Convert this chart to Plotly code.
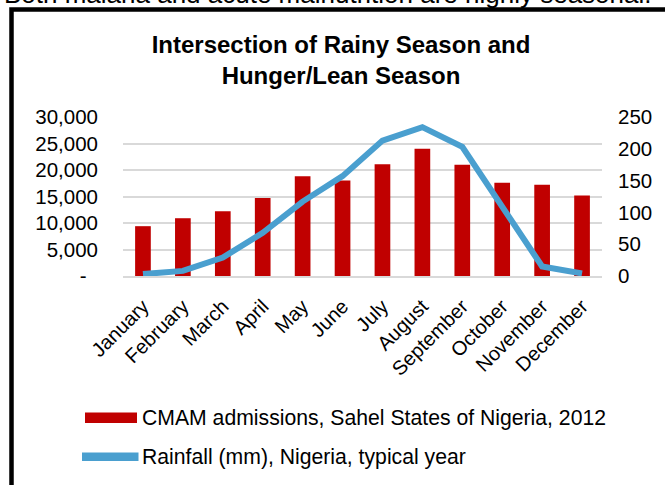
import plotly.graph_objects as go

months = ["January", "February", "March", "April", "May", "June", "July",
          "August", "September", "October", "November", "December"]
cmam_admissions = [9400, 10900, 12200, 14700, 18800, 18000, 21100, 24000,
                   21000, 17600, 17200, 15200]
rainfall_mm = [3, 8, 29, 68, 117, 157, 213, 234, 203, 110, 15, 4]

left_ticks = [0, 5000, 10000, 15000, 20000, 25000, 30000]
left_ticktext = ["-\u00a0\u00a0", "5,000", "10,000", "15,000", "20,000", "25,000", "30,000"]
right_ticks = [0, 50, 100, 150, 200, 250]

FONT = "Liberation Sans, Arial, sans-serif"
RED = "#C00000"
BLUE = "#4A9FCF"

# pixel geometry of the plot area
L, R, T, B = 123, 602, 117, 276
W, H = 665, 485


def fx(px):
    return (px - L) / (R - L)


def fy(py):
    return (B - py) / (B - T)


fig = go.Figure()
fig.add_trace(go.Bar(
    x=months, y=cmam_admissions, name="CMAM admissions, Sahel States of Nigeria, 2012",
    marker=dict(color=RED, line=dict(width=0)), yaxis="y", showlegend=False,
))
fig.add_trace(go.Scatter(
    x=months, y=rainfall_mm, name="Rainfall (mm), Nigeria, typical year",
    mode="lines", line=dict(color=BLUE, width=6), yaxis="y2", showlegend=False,
))

shapes = [
    # chart frame (extends past the visible page on right/bottom)
    dict(type="rect", xref="paper", yref="paper",
         x0=fx(11.5), x1=fx(680), y0=fy(500), y1=fy(9.5),
         line=dict(color="black", width=4.5), fillcolor="rgba(0,0,0,0)", layer="above"),
    # legend swatches
    dict(type="rect", xref="paper", yref="paper",
         x0=fx(85), x1=fx(137), y0=fy(423), y1=fy(412.5),
         line=dict(width=0), fillcolor=RED),
    dict(type="line", xref="paper", yref="paper",
         x0=fx(82), x1=fx(138.5), y0=fy(456.7), y1=fy(456.7),
         line=dict(color=BLUE, width=8.5)),
]

annotations = [
    dict(text="CMAM admissions, Sahel States of Nigeria, 2012", xref="paper", yref="paper",
         x=fx(139.5), y=fy(418), xanchor="left", yanchor="middle", showarrow=False,
         font=dict(family=FONT, size=21.2, color="black")),
    dict(text="Rainfall (mm), Nigeria, typical year", xref="paper", yref="paper",
         x=fx(139.5), y=fy(457), xanchor="left", yanchor="middle", showarrow=False,
         font=dict(family=FONT, size=21.2, color="black")),
    dict(text="Both malaria and acute malnutrition are highly seasonal.", xref="paper", yref="paper",
         x=fx(2), y=fy(11), xanchor="left", yanchor="bottom", showarrow=False,
         font=dict(family=FONT, size=26, color="black")),
]

fig.update_layout(
    width=W, height=H,
    margin=dict(l=L, r=W - R, t=T, b=H - B, pad=0),
    paper_bgcolor="white", plot_bgcolor="white",
    font=dict(family=FONT, size=20, color="black"),
    title=dict(text="<b>Intersection of Rainy Season and<br>Hunger/Lean Season</b>",
               x=341 / W, xanchor="center", xref="container",
               y=1 - 52.5 / H, yanchor="middle", yref="container",
               font=dict(family=FONT, size=24, color="black")),
    bargap=0.607,
    xaxis=dict(showgrid=False, ticks="", tickangle=-45, showline=True,
               linecolor="#D9D9D9", linewidth=1.5,
               tickfont=dict(family=FONT, size=20, color="black"),
               ticklabelstandoff=9),
    yaxis=dict(range=[0, 30000], tickvals=left_ticks, ticktext=left_ticktext,
               showgrid=True, gridcolor="#D9D9D9", gridwidth=1.5, zeroline=False,
               ticks="", showline=False, ticklabelstandoff=24,
               tickfont=dict(family=FONT, size=20.5, color="black")),
    yaxis2=dict(range=[0, 250], tickvals=right_ticks, overlaying="y", side="right",
                showgrid=False, zeroline=False, ticks="", showline=False,
                ticklabelstandoff=15,
                tickfont=dict(family=FONT, size=20.5, color="black")),
    shapes=shapes,
    annotations=annotations,
    showlegend=False,
)

fig.write_html("out.html",
               config={"displayModeBar": False},
               post_script="document.body.style.margin='0';document.body.style.overflow='hidden';")
